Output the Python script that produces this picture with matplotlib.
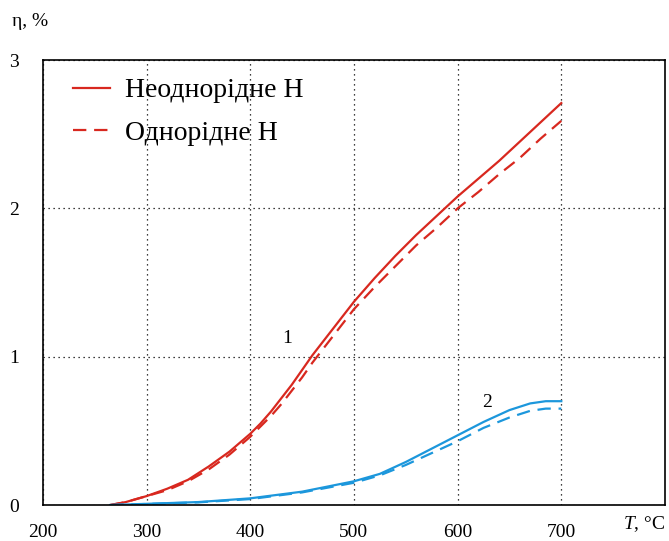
import numpy as np
import matplotlib.pyplot as plt

plt.rcParams['font.family'] = ['Liberation Serif', 'DejaVu Serif']
plt.rcParams['mathtext.fontset'] = 'custom'
plt.rcParams['mathtext.rm'] = 'Liberation Serif'
plt.rcParams['mathtext.it'] = 'Liberation Serif:italic'

# temperature, °C
t_red = [265, 280, 300, 320, 340, 360, 380, 400, 410, 420, 430, 440, 450, 460, 470,
         480, 490, 500, 520, 540, 560, 580, 600, 620, 640, 660, 680, 700]
red_solid = [0, 0.02, 0.06, 0.11, 0.17, 0.26, 0.36, 0.48, 0.55, 0.63, 0.72, 0.81, 0.91,
             1.01, 1.1, 1.19, 1.28, 1.37, 1.53, 1.68, 1.82, 1.95, 2.08, 2.2, 2.32,
             2.45, 2.58, 2.71]
red_dash = [0, 0.02, 0.06, 0.1, 0.16, 0.24, 0.34, 0.46, 0.53, 0.6, 0.68, 0.77, 0.86,
            0.96, 1.05, 1.14, 1.23, 1.32, 1.47, 1.61, 1.75, 1.87, 2.0, 2.11, 2.23,
            2.34, 2.47, 2.59]

t_blue = [265, 300, 350, 400, 450, 500, 525, 550, 575, 600, 625, 650, 670, 685, 700]
blue_solid = [0, 0.008, 0.02, 0.045, 0.09, 0.16, 0.21, 0.29, 0.38, 0.47, 0.56, 0.64, 0.685, 0.70, 0.70]
blue_dash = [0, 0.007, 0.018, 0.04, 0.085, 0.15, 0.2, 0.27, 0.35, 0.43, 0.52, 0.59, 0.635, 0.65, 0.65]

red = '#d8281f'
blue = '#1c97dc'
dash = (0, (6, 3.5))

fig = plt.figure(figsize=(6.69, 5.41), dpi=100)
ax = fig.add_axes([0.064, 0.0665, 0.93, 0.8225])

ax.plot(t_red, red_solid, color=red, lw=1.6, label='Неоднорідне Н')
ax.plot(t_red, red_dash, color=red, lw=1.6, ls=dash, label='Однорідне Н')
ax.plot(t_blue, blue_solid, color=blue, lw=1.6)
ax.plot(t_blue, blue_dash, color=blue, lw=1.6, ls=dash)

ax.text(436, 1.12, '1', fontsize=14, ha='center', va='center')
ax.text(628, 0.69, '2', fontsize=14, ha='center', va='center')

ax.set_xlim(200, 800)
ax.set_ylim(0, 3)
ax.set_xticks([200, 300, 400, 500, 600, 700])
ax.set_yticks([0, 1, 2, 3])
ax.tick_params(length=0, labelsize=14, pad=14)
ax.tick_params(axis='y', pad=17)
ax.grid(True, color='black', ls=(0, (1, 3)), lw=0.9)
for s in ax.spines.values():
    s.set_linewidth(1.2)

fig.text(30 / 669, 1 - 22 / 541, 'η, %', fontsize=14, ha='center', va='center')
fig.text(644 / 669, 1 - 524 / 541, '$T$, °C', fontsize=14, ha='center', va='center')

ax.legend(loc='upper left', frameon=False, fontsize=20, handlelength=1.33,
          handletextpad=0.55, labelspacing=0.62, borderpad=0, borderaxespad=0,
          bbox_to_anchor=(30 / 622, 1 - 18 / 445))

fig.savefig('out.png', dpi=100)
